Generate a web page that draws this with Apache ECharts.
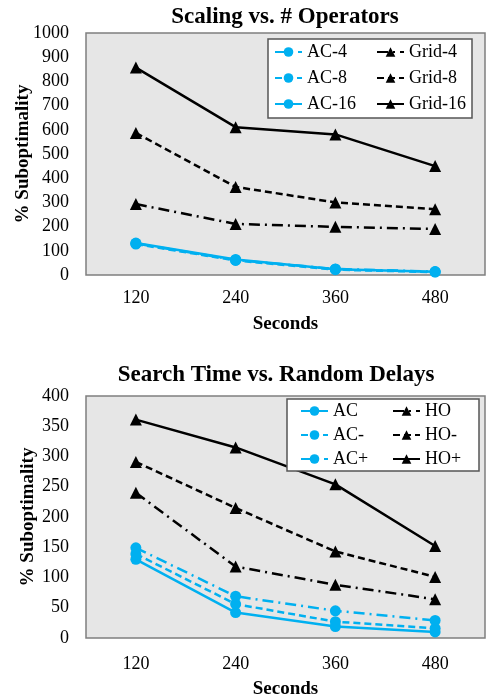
<!DOCTYPE html>
<html>
<head>
<meta charset="utf-8">
<script src="https://cdn.jsdelivr.net/npm/echarts@6/dist/echarts.min.js"></script>
<style>
html,body{margin:0;padding:0;background:#fff;}
#chart{width:487px;height:698px;}
</style>
</head>
<body>
<div id="chart"></div>
<script>
const categories = ['120', '240', '360', '480'];

// Top chart: Scaling vs. # Operators
const topTitle = 'Scaling vs. # Operators';
const ac4 = [130, 62, 25, 14];
const ac8 = [128, 60, 22, 12];
const ac16 = [132, 64, 24, 13];
const grid4 = [293, 211, 199, 190];
const grid8 = [587, 364, 300, 272];
const grid16 = [857, 611, 581, 450];
const topYTicks = {min: 0, max: 1000, interval: 100};

// Bottom chart: Search Time vs. Random Delays
const bottomTitle = 'Search Time vs. Random Delays';
const acBase = [130, 42, 19, 10];
const acMinus = [139, 56, 27, 16];
const acPlus = [149, 69, 45, 29];
const hoBase = [240, 118, 88, 64];
const hoMinus = [291, 215, 143, 101];
const hoPlus = [361, 315, 254, 152];
const bottomYTicks = {min: 0, max: 400, interval: 50};

const FONT = "'Liberation Serif', 'Times New Roman', serif";
const BLUE = '#00B0F0';
const DASHDOT = [11, 5, 2, 5];
const DASHED = [7, 4];

function mk(name, data, idx, kind, dash) {
  const isAC = kind === 'ac';
  return {
    name: name,
    type: 'line',
    xAxisIndex: idx,
    yAxisIndex: idx,
    data: data,
    symbol: isAC ? 'circle' : 'triangle',
    symbolSize: isAC ? 11 : 12,
    itemStyle: {color: isAC ? BLUE : '#000'},
    lineStyle: {color: isAC ? BLUE : '#000', width: 2.5, type: dash},
    emphasis: {disabled: true},
    animation: false
  };
}

function yAxis(idx, t, gap) {
  return {
    type: 'value', gridIndex: idx, min: t.min, max: t.max, interval: t.interval,
    name: '% Suboptimality', nameLocation: 'middle', nameGap: gap, nameMoveOverlap: false,
    nameTextStyle: {fontFamily: FONT, fontSize: 19, fontWeight: 'bold', color: '#000'},
    axisLine: {show: false}, axisTick: {show: false}, splitLine: {show: false},
    axisLabel: {fontFamily: FONT, fontSize: 18, color: '#000', margin: 17,
      formatter: function (v) { return String(v); }}
  };
}
function xAxis(idx, margin, gap) {
  return {
    type: 'category', gridIndex: idx, data: categories,
    name: 'Seconds', nameLocation: 'middle', nameGap: gap, nameMoveOverlap: false,
    nameTextStyle: {fontFamily: FONT, fontSize: 19, fontWeight: 'bold', color: '#000'},
    axisLine: {show: false}, axisTick: {show: false}, splitLine: {show: false},
    axisLabel: {fontFamily: FONT, fontSize: 18, color: '#000', margin: margin}
  };
}
function legend(names, left, top, w, gap, pad, tw) {
  return {
    data: names, left: left, top: top, width: w, orient: 'horizontal',
    itemWidth: 27, itemHeight: 12, itemGap: gap, padding: pad,
    backgroundColor: '#fff', borderColor: '#555', borderWidth: 1.5,
    textStyle: {fontFamily: FONT, fontSize: 18, color: '#000', width: tw, lineHeight: 18},
    selectedMode: false
  };
}

const chart = echarts.init(document.getElementById('chart'), null, {renderer: 'canvas'});
chart.setOption({
  backgroundColor: '#fff',
  animation: false,
  title: [
    {text: topTitle, left: 280, top: 1, textAlign: 'center',
     textStyle: {fontFamily: FONT, fontSize: 23, fontWeight: 'bold', color: '#000'}},
    {text: bottomTitle, left: 271, top: 359, textAlign: 'center',
     textStyle: {fontFamily: FONT, fontSize: 23, fontWeight: 'bold', color: '#000'}}
  ],
  legend: [
    legend(['AC-4', 'Grid-4', 'AC-8', 'Grid-8', 'AC-16', 'Grid-16'], 268, 39, 200, 8, [4, 2, 5, 6], 61),
    legend(['AC', 'HO', 'AC-', 'HO-', 'AC+', 'HO+'], 287, 399, 180, 6, [3, 1, 3, 13], 53)
  ],
  grid: [
    {left: 86, right: 2, top: 33, height: 242, show: true, outerBoundsMode: 'none', containLabel: false,
     backgroundColor: '#e6e6e6', borderColor: '#7f7f7f', borderWidth: 1.5},
    {left: 86, right: 2, top: 396, height: 242, show: true, outerBoundsMode: 'none', containLabel: false,
     backgroundColor: '#e6e6e6', borderColor: '#7f7f7f', borderWidth: 1.5}
  ],
  xAxis: [xAxis(0, 14, 40), xAxis(1, 17, 42)],
  yAxis: [yAxis(0, topYTicks, 53), yAxis(1, bottomYTicks, 48)],
  series: [
    mk('Grid-4', grid4, 0, 'grid', DASHDOT),
    mk('Grid-8', grid8, 0, 'grid', DASHED),
    mk('Grid-16', grid16, 0, 'grid', 'solid'),
    mk('AC-4', ac4, 0, 'ac', DASHDOT),
    mk('AC-8', ac8, 0, 'ac', DASHED),
    mk('AC-16', ac16, 0, 'ac', 'solid'),
    mk('HO', hoBase, 1, 'grid', DASHDOT),
    mk('HO-', hoMinus, 1, 'grid', DASHED),
    mk('HO+', hoPlus, 1, 'grid', 'solid'),
    mk('AC', acBase, 1, 'ac', 'solid'),
    mk('AC-', acMinus, 1, 'ac', DASHED),
    mk('AC+', acPlus, 1, 'ac', DASHDOT)
  ]
});
</script>
</body>
</html>
